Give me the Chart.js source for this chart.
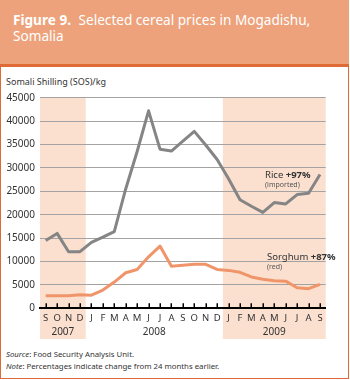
<!DOCTYPE html>
<html lang="en">
<head>
<meta charset="UTF-8">
<title>Figure 9. Selected cereal prices in Mogadishu, Somalia</title>
<script src="https://cdn.jsdelivr.net/npm/chart.js"></script>
<style>
    body {
        margin: 0;
        width: 350px;
        height: 380px;
        position: relative;
        overflow: hidden;
        background: #fff;
        color: #333;
        font-family: "Noto Sans", sans-serif;
    }
    .frame {
        position: absolute;
        left: 0; top: 0;
        width: 349px; height: 379px;
        box-sizing: border-box;
        border: 1.5px solid #df6a35;
        border-top: none;
    }
    .header {
        position: absolute;
        left: 0; top: 0;
        width: 349px; height: 67px;
        background: #eda27b;
        border-bottom: 3px solid #df6a35;
        color: #fff;
        font-size: 13.6px;
        line-height: 16px;
        padding: 12px 0 0 13px;
        box-sizing: border-box;
    }
    .header b { font-weight: bold; margin-right: 4px; }
    .ytitle {
        position: absolute; left: 6px; top: 75px;
        font-size: 9px;
    }
    .chart-box {
        position: absolute; left: 0; top: 70px;
        width: 350px; height: 275px;
    }
    .note {
        position: absolute; font-size: 9.5px; line-height: 11px; white-space: nowrap;
    }
    .note small { display: block; font-size: 7px; line-height: 9px; color: #555; }
    .footer {
        position: absolute; left: 6px; top: 349px;
        font-size: 7.8px; line-height: 11.5px;
    }
</style>
</head>
<body>
    <div class="frame"></div>
    <div class="header"><b>Figure 9.</b> Selected cereal prices in Mogadishu,<br>Somalia</div>
    <div class="ytitle">Somali Shilling (SOS)/kg</div>
    <div class="chart-box"><canvas id="priceChart"></canvas></div>
    <div class="note" style="left:265px; top:169px;">Rice <b>+97%</b><small>(imported)</small></div>
    <div class="note" style="left:267px; top:251px;">Sorghum <b>+87%</b><small>(red)</small></div>
    <div class="footer"><i>Source</i>: Food Security Analysis Unit.<br><i>Note</i>: Percentages indicate change from 24 months earlier.</div>

<script>
    // Sep 2007 - Sep 2009, monthly
    const months = ['S','O','N','D','J','F','M','A','M','J','J','A','S','O','N','D','J','F','M','A','M','J','J','A','S'];
    const rice = [14500, 16000, 12100, 12100, 14100, 15200, 16400, 25500, 33500, 42200, 34000, 33600, 35700, 37800, 34900, 31800, 27700, 23200, 21800, 20500, 22600, 22300, 24300, 24600, 28600];
    const sorghum = [2700, 2700, 2700, 2900, 2800, 3900, 5600, 7600, 8300, 11000, 13300, 9000, 9200, 9400, 9400, 8300, 8100, 7700, 6700, 6200, 5900, 5800, 4400, 4200, 5100];
    const yearLabels = ['2007', '2008', '2009'];
    const yearFrom = [0, 4, 16];
    const yearTo = [3, 15, 24];
    const yearShaded = [true, false, true];

    // shaded year bands + year labels under the month ticks
    const yearBands = {
        id: 'yearBands',
        beforeDraw(chart) {
            const {ctx, chartArea, scales: {x}} = chart;
            const step = x.getPixelForValue(1) - x.getPixelForValue(0);
            ctx.save();
            for (let i = 0; i < yearLabels.length; i++) {
                const left = x.getPixelForValue(yearFrom[i]) - step / 2;
                const right = x.getPixelForValue(yearTo[i]) + step / 2;
                if (yearShaded[i]) {
                    ctx.fillStyle = '#fbe0cf';
                    ctx.fillRect(left, chartArea.top, right - left, 269 - chartArea.top);
                }
            }
            ctx.restore();
        },
        afterDraw(chart) {
            const {ctx, chartArea, scales: {x}} = chart;
            ctx.save();
            // month tick marks sitting on the axis
            ctx.strokeStyle = '#000';
            ctx.lineWidth = 1.5;
            for (let i = 0; i < months.length; i++) {
                const px = Math.round(x.getPixelForValue(i)) + 0.25;
                ctx.beginPath();
                ctx.moveTo(px, chartArea.bottom - 5);
                ctx.lineTo(px, chartArea.bottom);
                ctx.stroke();
            }
            ctx.fillStyle = '#333';
            ctx.font = '10px "Noto Sans"';
            ctx.textAlign = 'center';
            ctx.textBaseline = 'middle';
            for (let i = 0; i < yearLabels.length; i++) {
                const cx = (x.getPixelForValue(yearFrom[i]) + x.getPixelForValue(yearTo[i])) / 2;
                ctx.fillText(yearLabels[i], cx, 262);
            }
            ctx.restore();
        }
    };

    const ctx = document.getElementById('priceChart').getContext('2d');
    new Chart(ctx, {
        type: 'line',
        data: {
            labels: months,
            datasets: [{
                label: 'Rice (imported)',
                data: rice,
                borderColor: '#858585',
                borderWidth: 3,
                borderJoinStyle: 'round',
                pointRadius: 0,
                tension: 0
            }, {
                label: 'Sorghum (red)',
                data: sorghum,
                borderColor: '#f0956a',
                borderWidth: 3,
                borderJoinStyle: 'round',
                pointRadius: 0,
                tension: 0
            }]
        },
        options: {
            responsive: true,
            maintainAspectRatio: false,
            animation: false,
            devicePixelRatio: 1,
            layout: { padding: { top: 27.7, right: 24.3, left: 0, bottom: 0 } },
            plugins: {
                legend: { display: false },
                tooltip: { enabled: false }
            },
            scales: {
                x: {
                    offset: true,
                    afterFit(scale) { scale.height = 36.7; },
                    grid: { display: true, drawOnChartArea: false, drawTicks: false },
                    border: { display: true, color: '#000', width: 2 },
                    ticks: {
                        color: '#333',
                        font: { family: 'Noto Sans', size: 9.5 },
                        padding: 4,
                        autoSkip: false,
                        maxRotation: 0
                    }
                },
                y: {
                    min: 0,
                    max: 45000,
                    afterFit(scale) { scale.width = 40; },
                    grid: {
                        color: (c) => c.tick && c.tick.value === 0 ? 'rgba(0,0,0,0)' : '#a3a3a3',
                        lineWidth: 1,
                        drawTicks: false
                    },
                    border: { display: false },
                    ticks: {
                        stepSize: 5000,
                        color: '#333',
                        font: { family: 'Noto Sans', size: 10 },
                        padding: 5,
                        callback: (v) => String(v)
                    }
                }
            }
        },
        plugins: [yearBands]
    });
</script>
</body>
</html>
